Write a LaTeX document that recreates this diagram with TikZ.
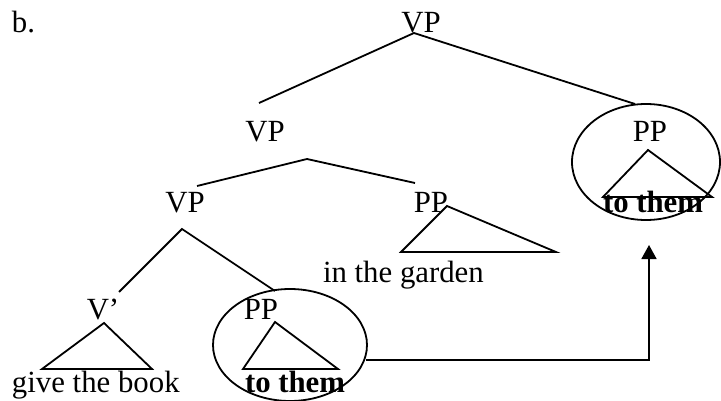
\documentclass[tikz,border=0pt]{standalone}
\usepackage{fontspec}
\setmainfont{Liberation Serif}
\usetikzlibrary{shapes.geometric,arrows.meta}
\begin{document}
\begin{tikzpicture}[x=1pt,y=-1pt,
  every node/.style={inner sep=0pt, outer sep=0pt, font=\fontsize{30.8}{36}\selectfont},
  lbl/.style={anchor=base},
  lblw/.style={anchor=base west},
  branch/.style={line width=1.8pt},
  tri/.style={line width=1.8pt, line join=miter},
  ring/.style={draw, ellipse, line width=1.8pt},
  mover/.style={line width=1.8pt, -{Triangle[length=14pt,width=15pt]}}]
\useasboundingbox (0,0) rectangle (721,401);
% labels
\node[lblw] (b) at (12,33) {b.};
\node[lbl] (vp1) at (421,33) {VP};
\node[lbl] (vp2) at (265,142) {VP};
\node[lbl] (pp1) at (650,142) {PP};
\node[lbl] (vp3) at (185,213) {VP};
\node[lbl] (pp2) at (431,213) {PP};
\node[lblw] (garden) at (323,283) {in the garden};
\node[lbl] (vbar) at (103,319) {V’};
\node[lbl] (pp3) at (261,319) {PP};
\node[lblw] (book) at (12,392) {give the book};
\node[lblw] (them2) at (245,392) {\bfseries to them};
\node[lblw] (them1) at (603,213) {\bfseries to them};
% branch points
\coordinate (t1) at (414,33);
\coordinate (t1l) at (259,103);
\coordinate (t1r) at (635,104);
\coordinate (t2) at (307,159);
\coordinate (t2l) at (197,186);
\coordinate (t2r) at (415,183);
\coordinate (t3) at (182,229);
\coordinate (t3l) at (119,292);
\coordinate (t3r) at (275,291);
\draw[branch] (t1l) -- (t1) -- (t1r);
\draw[branch] (t2l) -- (t2) -- (t2r);
\draw[branch] (t3l) -- (t3) -- (t3r);
% triangles
\draw[tri] (104,323) -- (42,369) -- (152,369) -- cycle;
\draw[tri] (275,322) -- (243,369) -- (338,369) -- cycle;
\draw[tri] (447,206) -- (401,252) -- (556,252) -- cycle;
\draw[tri] (648,150) -- (603,197) -- (712,197) -- cycle;
% ellipses
\node[ring, minimum width=154pt, minimum height=112pt] (e2) at (290,345) {};
\node[ring, minimum width=148pt, minimum height=116pt] (e1) at (646,162) {};
% movement arrow
\coordinate (a0) at (366,360);
\coordinate (a1) at (649,245);
\draw[mover] (a0) -| (a1);
\end{tikzpicture}
\end{document}
